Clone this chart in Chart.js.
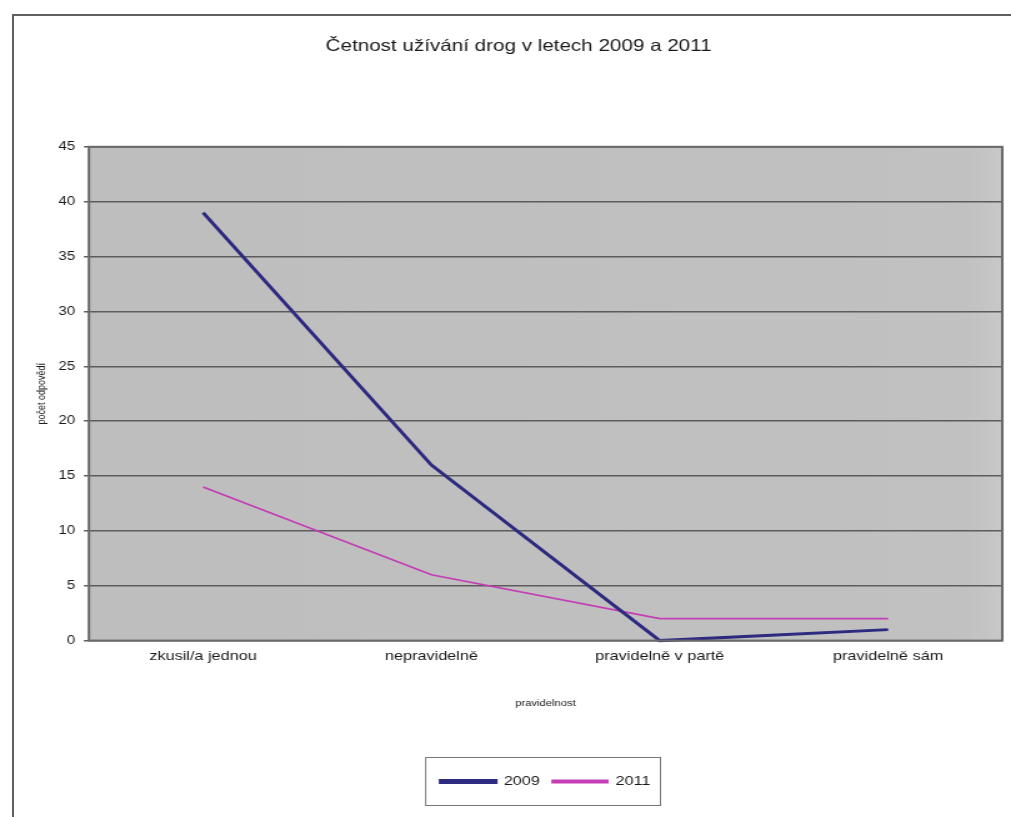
<!DOCTYPE html>
<html lang="cs">
<head>
<meta charset="utf-8">
<title>Četnost užívání drog</title>
<script src="https://cdn.jsdelivr.net/npm/chart.js@4.4.1/dist/chart.umd.min.js"></script>
<style>
    html, body { margin: 0; padding: 0; background: #fff; overflow: hidden; }
    #frame {
        position: absolute; left: 12px; top: 14px; width: 1100px; height: 900px;
        border-left: 2px solid #606060; border-top: 2px solid #606060;
    }
    /* the chart is laid out narrower and stretched sideways, like the original sheet export */
    #wrap {
        position: absolute; left: 0; top: 0; width: 809px; height: 817px;
        transform: scaleX(1.2497); transform-origin: 0 0;
    }
</style>
</head>
<body>
<div id="frame"></div>
<div id="wrap"><canvas id="drugChart" width="809" height="817"></canvas></div>
<script>
// Survey answers - how often pupils used drugs
const categories = ['zkusil/a jednou', 'nepravidelně', 'pravidelně v partě', 'pravidelně sám'];
const years = ['2009', '2011'];
const answers2009 = [39, 16, 0, 1];
const answers2011 = [14, 6, 2, 2];
const yTicks = [0, 5, 10, 15, 20, 25, 30, 35, 40, 45];

const FONT = "'Liberation Sans', Arial, sans-serif";

// Grey plot background plus a dark frame around it
const plotFrame = {
    id: 'plotFrame',
    beforeDraw(chart) {
        const { ctx, chartArea: a } = chart;
        const grad = ctx.createLinearGradient(a.left, 0, a.right, 0);
        grad.addColorStop(0, '#bebebe');
        grad.addColorStop(0.96, '#c1c1c1');
        grad.addColorStop(1, '#c8c8c8');
        ctx.save();
        ctx.fillStyle = grad;
        ctx.fillRect(a.left, a.top, a.right - a.left, a.bottom - a.top);
        ctx.restore();
    },
    afterDatasetsDraw(chart) {
        const { ctx, chartArea: a } = chart;
        ctx.save();
        ctx.strokeStyle = '#6a6a6a';
        ctx.lineWidth = 2;
        ctx.strokeRect(a.left, a.top, a.right - a.left, a.bottom - a.top);
        ctx.restore();
    },
    afterDraw(chart) {
        // thin box around the legend
        const boxes = chart.legend.legendHitBoxes;
        if (!boxes || !boxes.length) return;
        const first = boxes[0], last = boxes[boxes.length - 1];
        const cy = first.top + first.height / 2;
        const ctx = chart.ctx;
        ctx.save();
        ctx.strokeStyle = '#777';
        ctx.lineWidth = 1;
        ctx.strokeRect(first.left - 12, cy - 24, last.left + last.width - first.left + 20, 48);
        ctx.restore();
    }
};

function buildDataset(label, values, color, width) {
    return {
        label: label,
        data: values,
        borderColor: color,
        backgroundColor: color,
        borderWidth: width,
        pointRadius: 0,
        tension: 0,
        clip: false
    };
}

function renderChart() {
    const ctx = document.getElementById('drugChart').getContext('2d');

    new Chart(ctx, {
        type: 'line',
        data: {
            labels: categories,
            datasets: [
                buildDataset(years[0], answers2009, '#2d2a80', 3),
                buildDataset(years[1], answers2011, '#c43db5', 1.8)
            ]
        },
        options: {
            responsive: false,
            animation: false,
            devicePixelRatio: 1,
            layout: { padding: { left: 28, right: 7, top: 0, bottom: 19 } },
            plugins: {
                title: {
                    display: true,
                    text: 'Četnost užívání drog v letech 2009 a 2011',
                    color: '#1a1a1a',
                    font: { family: FONT, size: 16.5, weight: 'normal' },
                    padding: { top: 37, bottom: 90 }
                },
                legend: {
                    position: 'bottom',
                    fullSize: false,
                    labels: {
                        color: '#1a1a1a',
                        font: { family: FONT, size: 13 },
                        boxWidth: 44,
                        boxHeight: 2,
                        padding: 10
                    }
                },
                tooltip: { enabled: false }
            },
            scales: {
                x: {
                    offset: true,
                    grid: { display: false, drawTicks: false },
                    border: { display: false },
                    ticks: {
                        color: '#1a1a1a',
                        font: { family: FONT, size: 13 },
                        padding: 8,
                        maxRotation: 0
                    },
                    title: {
                        display: true,
                        text: 'pravidelnost',
                        color: '#1a1a1a',
                        font: { family: FONT, size: 9 },
                        padding: { top: 26, bottom: 56 }
                    }
                },
                y: {
                    min: 0,
                    max: 45,
                    afterBuildTicks(axis) {
                        axis.ticks = yTicks.map(v => ({ value: v }));
                    },
                    grid: {
                        color: '#5c5c5c',
                        lineWidth: 1.5,
                        tickLength: 4,
                        drawTicks: true
                    },
                    border: { display: false },
                    ticks: {
                        color: '#1a1a1a',
                        font: { family: FONT, size: 12 },
                        padding: 7
                    },
                    title: {
                        display: true,
                        text: 'počet odpovědí',
                        color: '#1a1a1a',
                        font: { family: FONT, size: 9 },
                        padding: { top: 0, bottom: 1 }
                    }
                }
            }
        },
        plugins: [plotFrame]
    });
}

renderChart();
</script>
</body>
</html>
